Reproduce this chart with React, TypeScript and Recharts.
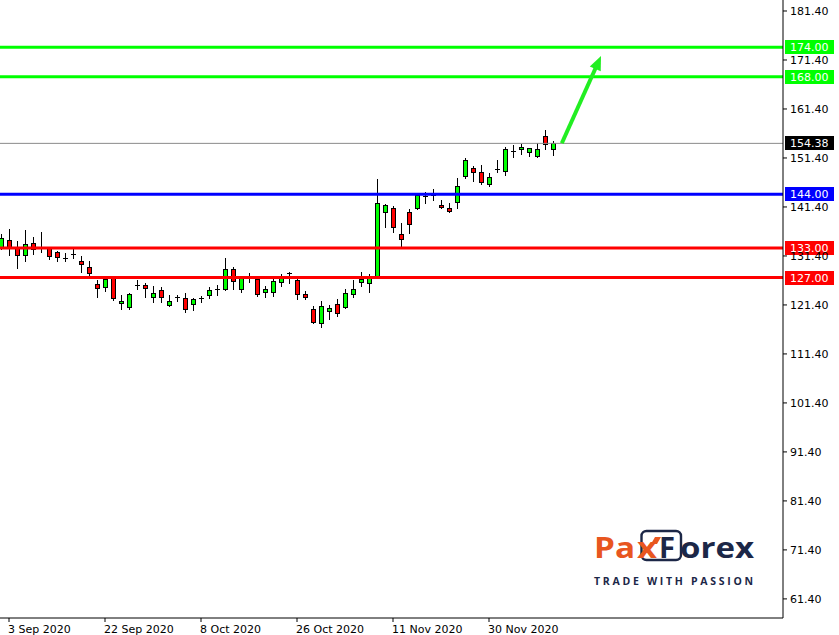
import React from 'react';
import { ComposedChart, Bar, XAxis, YAxis, ReferenceLine } from 'recharts';

// Daily candles, 2 Sep 2020 .. 10 Dec 2020
const opens = [
  133.0, 134.67, 133.03, 131.5, 134.06, 133.2, 133.0, 132.2, 131.0, 131.8,
  130.32, 129.1, 125.6, 125.0, 126.85, 121.75, 120.93, 125.4, 125.5, 122.97,
  124.5, 121.34, 122.96, 122.77, 121.55, 122.7, 123.39, 124.55, 124.6, 128.7,
  124.6, 127.4, 126.65, 124.1, 124.1, 126.04, 127.95, 126.5, 123.6, 120.5,
  117.67, 120.2, 121.55, 120.93, 123.6, 126.04, 125.83, 127.05, 140.3, 141.1,
  135.83, 140.44, 141.1, 143.65, 143.7, 141.8, 141.1, 142.5, 147.8, 149.3,
  148.5, 146.15, 149.15, 148.8, 152.85, 153.2, 152.7, 151.9, 155.9, 153.2,
];
const highs = [
  135.9, 136.9, 134.46, 136.7, 135.27, 136.3, 133.2, 132.5, 132.1, 132.8,
  131.4, 130.4, 126.5, 127.1, 127.1, 123.4, 123.8, 126.5, 125.85, 125.3,
  125.07, 123.4, 123.4, 123.85, 122.9, 123.2, 125.07, 125.5, 130.9, 129.05,
  127.1, 128.0, 127.0, 125.34, 126.65, 127.7, 128.2, 126.85, 124.26, 121.2,
  122.2, 121.4, 122.57, 124.6, 126.5, 128.07, 127.7, 147.1, 141.95, 141.6,
  138.07, 140.9, 144.05, 144.5, 145.0, 142.8, 142.15, 147.25, 151.4, 149.8,
  149.97, 148.3, 151.0, 153.7, 154.05, 154.2, 153.4, 154.4, 157.1, 154.87,
];
const lows = [
  132.8, 131.5, 129.0, 130.4, 131.8, 132.3, 130.7, 130.4, 130.4, 130.9,
  128.2, 127.5, 123.1, 124.3, 122.4, 120.5, 120.6, 124.7, 123.1, 121.9,
  121.9, 121.1, 122.3, 120.03, 120.4, 121.9, 122.9, 123.5, 124.5, 124.67,
  124.0, 126.0, 123.3, 123.1, 123.3, 125.34, 125.8, 122.57, 122.57, 117.7,
  117.0, 118.6, 119.2, 120.8, 123.1, 125.34, 124.1, 126.9, 137.3, 136.2,
  133.5, 136.0, 141.0, 142.15, 142.8, 141.25, 140.4, 141.25, 147.4, 146.7,
  146.0, 145.7, 148.6, 147.9, 151.7, 152.2, 151.8, 151.7, 153.2, 152.07,
];
const closes = [
  135.07, 133.14, 131.5, 133.85, 132.83, 133.1, 131.3, 131.1, 130.95, 131.85,
  129.7, 128.0, 124.9, 126.7, 122.77, 122.16, 123.6, 125.45, 124.8, 123.79,
  122.97, 122.16, 123.0, 120.5, 122.57, 122.75, 124.4, 124.6, 128.7, 126.2,
  126.85, 127.0, 123.7, 124.67, 126.3, 126.9, 128.0, 123.6, 122.97, 117.87,
  121.2, 120.73, 119.7, 123.79, 124.67, 126.65, 126.85, 142.15, 141.8, 137.25,
  134.8, 138.0, 143.85, 143.7, 143.75, 141.3, 140.5, 145.7, 151.0, 148.6,
  146.57, 147.5, 149.2, 153.2, 152.9, 153.6, 153.4, 153.2, 154.2, 154.38,
];

const dateTickIndex = [1, 13, 25, 37, 49, 61];
const dateTickLabels = ['3 Sep 2020', '22 Sep 2020', '8 Oct 2020', '26 Oct 2020', '11 Nov 2020', '30 Nov 2020'];
const priceTicks = [61.4, 71.4, 81.4, 91.4, 101.4, 111.4, 121.4, 131.4, 141.4, 151.4, 161.4, 171.4, 181.4];

const levelValues = [174, 168, 144, 133, 127];
const levelColors = ['#00ff00', '#00ff00', '#0000ff', '#ff0000', '#ff0000'];
const lastPrice = 154.38;

const arrowStart = { i: 70.1, p: 154.4 };
const arrowEnd = { i: 75.0, p: 172.2 };

const candles = opens.map((o, i) => ({ i, open: o, high: highs[i], low: lows[i], close: closes[i] }));

const FONT = 'DejaVu Sans, Verdana, sans-serif';

const CandleShape = (props: any) => {
  const { x, y, width, height, payload } = props;
  if (x == null || y == null || !payload) return null;
  const { open, close, high, low } = payload;
  const top = Math.min(y, y + height);
  const h = Math.abs(height);
  const ppu = high > low ? h / (high - low) : 0;
  const yOf = (v: number) => top + (high - v) * ppu;
  const cx = Math.round(x + width / 2);
  const wickTop = Math.round(top);
  const wickBot = Math.round(top + h);
  const up = close >= open;
  const doji = Math.abs(open - close) < 0.15;
  const bTop = Math.round(yOf(Math.max(open, close)));
  const bBot = Math.round(yOf(Math.min(open, close)));
  return (
    <g>
      <line x1={cx + 0.5} x2={cx + 0.5} y1={wickTop} y2={wickBot + 1} stroke="#000" strokeWidth={1} />
      {doji ? (
        <line x1={cx - 2} x2={cx + 3} y1={bTop + 0.5} y2={bTop + 0.5} stroke="#000" strokeWidth={1} />
      ) : (
        <rect
          x={cx - 1.5}
          y={bTop + 0.5}
          width={4}
          height={Math.max(1, bBot - bTop)}
          fill={up ? '#00ff00' : '#ff0000'}
          stroke="#000"
          strokeWidth={1}
        />
      )}
    </g>
  );
};

const makeLevelLabel = (text: string, bg: string) => (props: any) => {
  const vb = props.viewBox || {};
  const lx = (vb.x ?? 0) + (vb.width ?? 0) + 2;
  const ly = Math.round(vb.y ?? 0);
  return (
    <g>
      <rect x={lx} y={ly - 7} width={49} height={14} fill={bg} />
      <text x={lx + 5} y={ly + 4} fill="#fff" fontSize={11} fontFamily={FONT}>
        {text}
      </text>
    </g>
  );
};

const ArrowShape = (props: any) => {
  const { x1, y1, x2, y2 } = props;
  if (x1 == null) return null;
  const dx = x2 - x1;
  const dy = y2 - y1;
  const len = Math.sqrt(dx * dx + dy * dy) || 1;
  const ux = dx / len;
  const uy = dy / len;
  const headLen = 14;
  const headW = 6;
  const bx = x2 - ux * headLen;
  const by = y2 - uy * headLen;
  const px = -uy;
  const py = ux;
  return (
    <g>
      <line x1={x1} y1={y1} x2={bx + ux * 2} y2={by + uy * 2} stroke="#22ee22" strokeWidth={4} />
      <polygon
        points={`${x2},${y2} ${bx + px * headW},${by + py * headW} ${bx - px * headW},${by - py * headW}`}
        fill="#22ee22"
      />
    </g>
  );
};

const XTick = (props: any) => {
  const { x, y, payload } = props;
  const idx = dateTickIndex.indexOf(payload.value);
  return (
    <text x={x - 1} y={y + 11} fill="#000" fontSize={11} fontFamily={FONT} textAnchor="start">
      {idx >= 0 ? dateTickLabels[idx] : ''}
    </text>
  );
};

const Logo = () => {
  const orange = '#e8561f';
  const navy = '#1c2747';
  const lf = 'Open Sans, Lato, sans-serif';
  return (
    <svg width={839} height={635} style={{ position: 'absolute', left: 0, top: 0, pointerEvents: 'none' }}>
      <rect x={641.5} y={531} width={39.5} height={29} rx={5} ry={5} fill="none" stroke={navy} strokeWidth={2.4} />
      <text x={594} y={557.5} fill={orange} fontSize={28} fontWeight={700} fontFamily={lf} textLength={41} lengthAdjust="spacingAndGlyphs">
        Pa
      </text>
      <text x={637} y={557.5} fill={orange} fontSize={28} fontWeight={700} fontFamily={lf} textLength={20} lengthAdjust="spacingAndGlyphs">
        x
      </text>
      <polygon points="655,537 661,537 657,544 651,544" fill={orange} />
      <text x={659} y={557.5} fill={navy} fontSize={28} fontWeight={700} fontFamily={lf} textLength={16} lengthAdjust="spacingAndGlyphs">
        F
      </text>
      <text x={680} y={557.5} fill={navy} fontSize={28} fontWeight={700} fontFamily={lf} textLength={74} lengthAdjust="spacingAndGlyphs">
        orex
      </text>
      <text x={594} y={585} fill={navy} fontSize={10.5} fontWeight={700} fontFamily={lf} textLength={159} lengthAdjust="spacing">
        TRADE WITH PASSION
      </text>
    </svg>
  );
};

export default function App() {
  return (
    <div style={{ position: 'absolute', left: 0, top: 0, width: 839, height: 635, background: '#fff', overflow: 'hidden' }}>
      <ComposedChart width={839} height={635} data={candles} margin={{ top: 0, right: 0, bottom: 0, left: 0 }}>
        <XAxis
          dataKey="i"
          type="number"
          domain={[-0.125, 97.75]}
          allowDataOverflow
          ticks={dateTickIndex}
          interval={0}
          height={17}
          tickSize={4}
          tickMargin={0}
          axisLine={{ stroke: '#000' }}
          tickLine={{ stroke: '#000' }}
          tick={<XTick />}
        />
        <YAxis
          orientation="right"
          type="number"
          width={56}
          domain={[57.5, 183.645]}
          allowDataOverflow
          ticks={priceTicks}
          interval={0}
          tickFormatter={(v: number) => v.toFixed(2)}
          tickSize={4}
          tickMargin={3}
          axisLine={{ stroke: '#000' }}
          tickLine={{ stroke: '#000' }}
          tick={{ fill: '#000', fontSize: 11, fontFamily: FONT, textAnchor: 'start' }}
        />
        <ReferenceLine y={lastPrice} stroke="#8a8a8a" strokeWidth={1} label={makeLevelLabel(lastPrice.toFixed(2), '#000')} />
        {levelValues.map((v, k) => (
          <ReferenceLine key={v} y={v} stroke={levelColors[k]} strokeWidth={3} label={makeLevelLabel(v.toFixed(2), levelColors[k])} />
        ))}
        <Bar dataKey={(d: any) => [d.low, d.high]} barSize={5} shape={CandleShape} isAnimationActive={false} />
        <ReferenceLine
          segment={[{ x: arrowStart.i, y: arrowStart.p }, { x: arrowEnd.i, y: arrowEnd.p }]}
          shape={ArrowShape}
        />
      </ComposedChart>
      <Logo />
    </div>
  );
}
